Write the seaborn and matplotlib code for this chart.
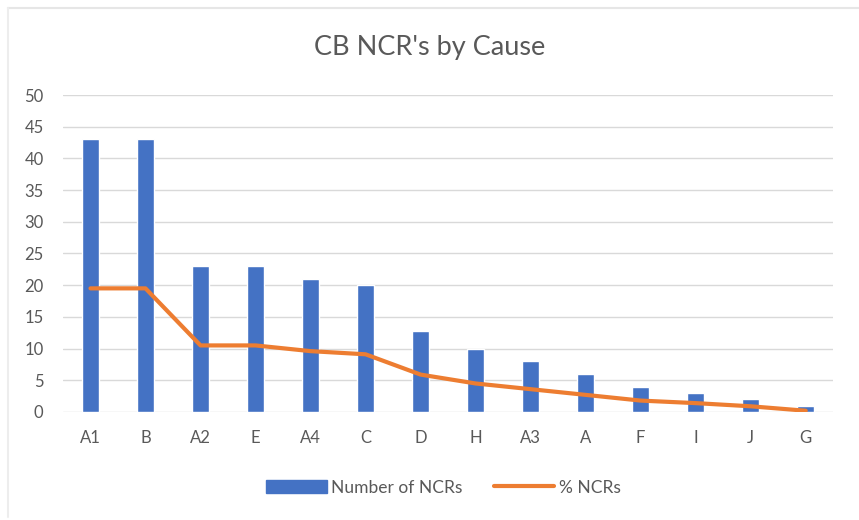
import pandas as pd
import seaborn as sns
import matplotlib.pyplot as plt
from matplotlib.lines import Line2D
from matplotlib.patches import Patch

causes = ["A1", "B", "A2", "E", "A4", "C", "D", "H", "A3", "A", "F", "I", "J", "G"]
num_ncrs = [43, 43, 23, 23, 21, 20, 12.8, 10, 8, 6, 4, 3, 2, 1]
pct_ncrs = [19.5, 19.5, 10.5, 10.5, 9.6, 9.1, 5.9, 4.5, 3.6, 2.7, 1.8, 1.4, 0.9, 0.2]

data = pd.DataFrame({"cause": causes, "num": num_ncrs, "pct": pct_ncrs})

sns.set_style("white")
plt.rcParams["font.family"] = ["Lato", "DejaVu Sans"]

fig = plt.figure(figsize=(8.59, 5.2), dpi=100)
ax = fig.add_axes([0.0733, 0.2077, 0.8967, 0.6096])

sns.barplot(x="cause", y="num", data=data, color="#4472C4", width=0.31,
            saturation=1, ax=ax)
ax.plot(range(len(causes)), data["pct"], color="#ED7D31", lw=3,
        solid_joinstyle="round", solid_capstyle="round")

ax.set_xlim(-0.5, len(causes) - 0.5)
ax.set_ylim(0, 50)
ax.set_yticks(range(0, 51, 5))
ax.yaxis.grid(True, color="#D9D9D9", lw=1)
ax.set_axisbelow(True)
for s in ax.spines.values():
    s.set_visible(False)
ax.tick_params(axis="both", length=0, colors="#595959", labelsize=12)
ax.tick_params(axis="x", pad=13)
ax.tick_params(axis="y", pad=14)
ax.set_xlabel("")
ax.set_ylabel("")

fig.text(0.5, 0.908, "CB NCR's by Cause", ha="center", va="center",
         fontsize=19.5, color="#595959")

handles = [Patch(color="#4472C4"), Line2D([], [], color="#ED7D31", lw=3)]
fig.legend(handles, ["Number of NCRs", "% NCRs"], loc="center",
           bbox_to_anchor=(0.516, 0.062), ncol=2, frameon=False,
           fontsize=12.5, labelcolor="#595959", handlelength=3.5,
           handleheight=0.8, columnspacing=1.8, handletextpad=0.25)

# faint chart border
fig.add_artist(Line2D([0.009, 1], [0.985, 0.985], color="#E6E6E6", lw=1.5,
                      transform=fig.transFigure))
fig.add_artist(Line2D([0.009, 0.009], [0.005, 0.985], color="#EDEDED", lw=1.5,
                      transform=fig.transFigure))

fig.savefig("out.png", dpi=100)
